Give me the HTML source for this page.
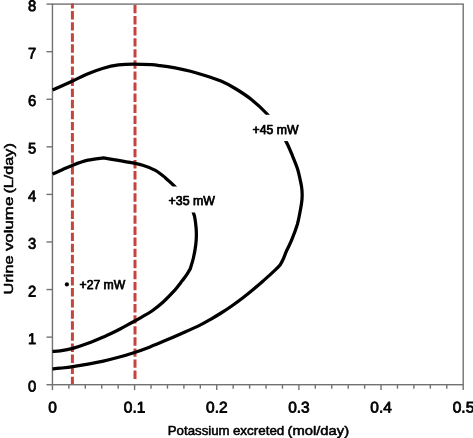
<!DOCTYPE html>
<html><head><meta charset="utf-8"><title>Chart</title>
<style>
html,body{margin:0;padding:0;background:#fff;}
body{width:473px;height:438px;overflow:hidden;font-family:"Liberation Sans",sans-serif;}
svg{display:block;will-change:transform;}
text{font-family:"Liberation Sans",sans-serif;font-weight:normal;fill:#000;stroke:#000;stroke-width:0.75px;stroke-linejoin:round;}
.t text{stroke-width:0.5px;}
</style></head>
<body>
<svg width="473" height="438" viewBox="0 0 473 438">
<rect width="473" height="438" fill="#fff"/>
<g stroke="#727272" stroke-width="1.4" fill="none">
<rect x="52.45" y="4.1" width="410.75" height="380.60"/>
<line x1="46.5" y1="384.70" x2="52.5" y2="384.70"/><line x1="46.5" y1="337.12" x2="52.5" y2="337.12"/><line x1="46.5" y1="289.55" x2="52.5" y2="289.55"/><line x1="46.5" y1="241.97" x2="52.5" y2="241.97"/><line x1="46.5" y1="194.40" x2="52.5" y2="194.40"/><line x1="46.5" y1="146.83" x2="52.5" y2="146.83"/><line x1="46.5" y1="99.25" x2="52.5" y2="99.25"/><line x1="46.5" y1="51.68" x2="52.5" y2="51.68"/><line x1="46.5" y1="4.10" x2="52.5" y2="4.10"/><line x1="52.45" y1="384.7" x2="52.45" y2="390.1"/><line x1="68.88" y1="384.7" x2="68.88" y2="388.7"/><line x1="85.31" y1="384.7" x2="85.31" y2="388.7"/><line x1="101.74" y1="384.7" x2="101.74" y2="388.7"/><line x1="118.17" y1="384.7" x2="118.17" y2="388.7"/><line x1="134.60" y1="384.7" x2="134.60" y2="390.1"/><line x1="151.03" y1="384.7" x2="151.03" y2="388.7"/><line x1="167.46" y1="384.7" x2="167.46" y2="388.7"/><line x1="183.89" y1="384.7" x2="183.89" y2="388.7"/><line x1="200.32" y1="384.7" x2="200.32" y2="388.7"/><line x1="216.75" y1="384.7" x2="216.75" y2="390.1"/><line x1="233.18" y1="384.7" x2="233.18" y2="388.7"/><line x1="249.61" y1="384.7" x2="249.61" y2="388.7"/><line x1="266.04" y1="384.7" x2="266.04" y2="388.7"/><line x1="282.47" y1="384.7" x2="282.47" y2="388.7"/><line x1="298.90" y1="384.7" x2="298.90" y2="390.1"/><line x1="315.33" y1="384.7" x2="315.33" y2="388.7"/><line x1="331.76" y1="384.7" x2="331.76" y2="388.7"/><line x1="348.19" y1="384.7" x2="348.19" y2="388.7"/><line x1="364.62" y1="384.7" x2="364.62" y2="388.7"/><line x1="381.05" y1="384.7" x2="381.05" y2="390.1"/><line x1="397.48" y1="384.7" x2="397.48" y2="388.7"/><line x1="413.91" y1="384.7" x2="413.91" y2="388.7"/><line x1="430.34" y1="384.7" x2="430.34" y2="388.7"/><line x1="446.77" y1="384.7" x2="446.77" y2="388.7"/><line x1="463.20" y1="384.7" x2="463.20" y2="390.1"/>
</g>
<g stroke="#c6443e" stroke-width="3" fill="none" stroke-dasharray="8.4 2.68">
<line x1="72.4" y1="3.6" x2="72.4" y2="384.2" stroke-dashoffset="3.58"/>
<line x1="135" y1="4.9" x2="135" y2="379.2"/>
</g>
<g stroke="#000" stroke-width="3.25" fill="none" stroke-linejoin="round">
<path d="M52.6 90.1C55.8 88.6 65.7 84.1 71.6 81.4C77.5 78.7 82.7 75.9 88.0 73.7C93.3 71.5 98.2 69.7 103.3 68.2C108.4 66.7 113.4 65.6 118.5 64.9C123.6 64.2 128.3 64.0 133.8 64.0C139.3 64.0 147.1 64.4 151.5 64.7C155.9 65.0 156.1 65.1 160.0 65.6C163.9 66.1 170.1 67.0 175.2 67.9C180.3 68.9 185.4 70.0 190.5 71.3C195.6 72.6 200.6 74.1 205.7 75.7C210.8 77.3 215.9 78.9 221.0 81.1C226.1 83.3 230.9 85.9 236.0 89.0C241.1 92.1 246.3 95.4 251.4 99.5C256.5 103.6 262.3 108.9 266.6 113.5C270.9 118.1 273.8 122.4 277.0 127.0C280.2 131.6 283.5 136.7 285.9 141.1C288.3 145.5 289.7 149.1 291.6 153.7C293.5 158.3 295.9 163.8 297.4 168.5C298.9 173.2 299.9 178.5 300.7 182.2C301.5 185.9 301.8 187.6 302.0 190.5C302.2 193.4 302.3 196.2 302.0 199.5C301.7 202.8 301.1 206.4 300.3 210.5C299.5 214.6 298.8 219.2 297.4 224.2C295.9 229.1 293.4 235.8 291.6 240.2C289.8 244.6 288.1 247.4 286.7 250.5C285.3 253.6 284.6 256.1 283.5 258.5C282.4 260.9 280.8 263.8 280.2 264.8C279.2 265.9 276.8 268.5 274.0 271.1C271.2 273.8 266.9 277.6 263.4 280.7C259.9 283.8 256.4 286.8 252.9 289.7C249.4 292.6 245.8 295.5 242.3 298.2C238.8 300.9 235.2 303.5 231.7 306.0C228.2 308.5 224.6 310.8 221.1 313.0C217.6 315.2 214.1 317.3 210.6 319.3C207.1 321.3 205.0 322.7 200.0 325.1C195.0 327.6 186.3 331.4 180.5 334.0C174.7 336.6 170.3 338.5 165.2 340.6C160.1 342.8 155.2 344.9 150.0 346.9C144.8 348.9 139.1 351.0 133.8 352.7C128.6 354.4 123.6 355.9 118.5 357.3C113.4 358.7 108.4 360.0 103.3 361.1C98.2 362.2 93.1 363.2 88.0 364.1C82.9 365.0 77.4 365.9 72.8 366.6C68.2 367.3 63.6 367.8 60.2 368.2C56.8 368.6 53.8 368.8 52.5 368.9"/><path d="M52.6 174.0C54.3 173.2 59.3 171.0 62.7 169.5C66.1 168.0 68.6 166.8 72.8 165.2C77.0 163.6 82.9 161.4 88.0 160.2C93.1 159.0 100.8 158.3 103.3 157.9C105.8 158.3 114.0 159.6 118.5 160.3C123.0 161.1 126.0 161.6 130.0 162.4C134.0 163.2 138.5 163.9 142.7 165.2C146.9 166.5 151.6 168.2 155.4 170.3C159.2 172.4 162.3 175.2 165.5 177.9C168.7 180.6 171.1 182.6 174.4 186.2C177.7 189.8 182.3 195.2 185.5 199.5C188.7 203.8 191.6 208.3 193.3 212.3C195.0 216.3 195.1 219.7 195.6 223.3C196.1 227.0 196.4 230.5 196.4 234.2C196.4 237.8 196.2 241.2 195.7 245.2C195.2 249.2 194.3 254.0 193.4 258.0C192.5 262.0 190.7 267.2 190.2 269.0C189.4 270.2 187.0 274.3 185.6 276.3C184.2 278.3 183.9 278.5 181.9 281.1C179.9 283.7 176.6 288.2 173.4 291.7C170.2 295.2 166.4 299.1 162.9 302.3C159.4 305.5 155.8 308.2 152.3 310.7C148.8 313.2 145.2 315.1 141.7 317.1C138.2 319.2 134.6 321.1 131.1 323.0C127.6 324.9 124.1 326.9 120.6 328.7C117.1 330.5 112.9 332.6 110.0 334.0C107.1 335.4 107.0 335.4 103.3 337.0C99.6 338.6 93.1 341.4 88.0 343.3C82.9 345.2 77.4 347.1 72.8 348.4C68.2 349.7 63.6 350.4 60.2 350.9C56.8 351.4 53.8 351.3 52.5 351.4"/>
</g>
<rect x="250" y="114.8" width="51" height="26.3" fill="#fff"/><rect x="166" y="186.5" width="52" height="26" fill="#fff"/>
<circle cx="66.9" cy="284.4" r="2.1" fill="#000"/>
<g font-size="14.35"><text transform="translate(32 391.5) scale(1.03 1.075) rotate(0.03)" text-anchor="middle">0</text><text transform="translate(32 343.9) scale(1.03 1.075) rotate(0.03)" text-anchor="middle">1</text><text transform="translate(32 296.4) scale(1.03 1.075) rotate(0.03)" text-anchor="middle">2</text><text transform="translate(32 248.8) scale(1.03 1.075) rotate(0.03)" text-anchor="middle">3</text><text transform="translate(32 201.2) scale(1.03 1.075) rotate(0.03)" text-anchor="middle">4</text><text transform="translate(32 153.6) scale(1.03 1.075) rotate(0.03)" text-anchor="middle">5</text><text transform="translate(32 106.0) scale(1.03 1.075) rotate(0.03)" text-anchor="middle">6</text><text transform="translate(32 58.5) scale(1.03 1.075) rotate(0.03)" text-anchor="middle">7</text><text transform="translate(32 10.9) scale(1.03 1.075) rotate(0.03)" text-anchor="middle">8</text><text transform="translate(52.5 412.5) scale(1.08 1.075) rotate(0.03)" text-anchor="middle">0</text><text transform="translate(134.6 412.5) scale(1.08 1.075) rotate(0.03)" text-anchor="middle">0.1</text><text transform="translate(216.8 412.5) scale(1.08 1.075) rotate(0.03)" text-anchor="middle">0.2</text><text transform="translate(298.9 412.5) scale(1.08 1.075) rotate(0.03)" text-anchor="middle">0.3</text><text transform="translate(381.1 412.5) scale(1.08 1.075) rotate(0.03)" text-anchor="middle">0.4</text><text transform="translate(463.5 412.5) scale(1.08 1.075) rotate(0.03)" text-anchor="middle">0.5</text></g>
<g font-size="12.2">
<text x="252.6" y="133.6" textLength="46" lengthAdjust="spacingAndGlyphs">+45 mW</text>
<text x="168.6" y="204.8" textLength="46.4" lengthAdjust="spacingAndGlyphs">+35 mW</text>
<text x="79.5" y="289.1" textLength="45.8" lengthAdjust="spacingAndGlyphs">+27 mW</text>
</g>
<g class="t" font-size="12.1">
<text x="167.8" y="434.9" textLength="61.8" lengthAdjust="spacingAndGlyphs">Potassium</text>
<text x="232.9" y="434.9" textLength="51.4" lengthAdjust="spacingAndGlyphs">excreted</text>
<text x="287.5" y="434.9" textLength="61.6" lengthAdjust="spacingAndGlyphs">(mol/day)</text>
</g>
<g class="t" font-size="13.5" transform="translate(12.55 0) rotate(-90)">
<text x="-294.4" y="0" textLength="39" lengthAdjust="spacingAndGlyphs">Urine</text>
<text x="-251.1" y="0" textLength="54.4" lengthAdjust="spacingAndGlyphs">volume</text>
<text x="-193.6" y="0" textLength="50.4" lengthAdjust="spacingAndGlyphs">(L/day)</text>
</g>
</svg>
</body></html>
